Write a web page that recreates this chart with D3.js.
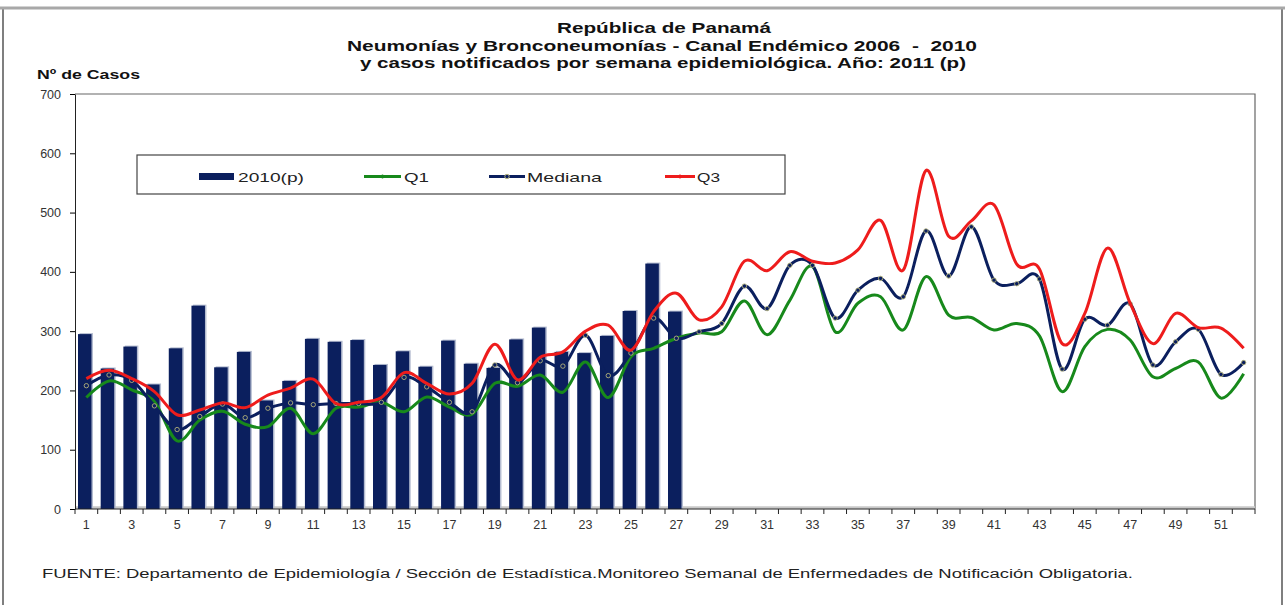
<!DOCTYPE html>
<html>
<head>
<meta charset="utf-8">
<script src="https://cdn.jsdelivr.net/npm/d3@7"></script>
<style>
    body { margin: 0; background: #fff; }
    svg text { font-family: "Liberation Sans", Arial, sans-serif; }
</style>
</head>
<body>
<script>
    //Semanas epidemiologicas (categorias del eje x)
    var weeks = [1, 2, 3, 4, 5, 6, 7, 8, 9, 10, 11, 12, 13, 14, 15, 16, 17, 18, 19, 20,
                 21, 22, 23, 24, 25, 26, 27, 28, 29, 30, 31, 32, 33, 34, 35, 36, 37, 38, 39, 40,
                 41, 42, 43, 44, 45, 46, 47, 48, 49, 50, 51, 52];

    //Casos notificados 2010(p), semanas 1-27
    var casos2010 = [295, 237, 274, 210, 271, 343, 239, 265, 183, 216,
                     287, 282, 285, 243, 266, 240, 284, 245, 238, 286,
                     306, 265, 263, 292, 334, 414, 333];

    //Canal endemico 2006-2010
    var q1 = [188, 216, 201, 181, 115, 150, 165, 143, 139, 170,
              127, 170, 172, 180, 164, 189, 172, 160, 212, 207,
              226, 197, 248, 188, 257, 271, 288, 297, 299, 351,
              294, 352, 409, 299, 347, 358, 302, 392, 327, 323,
              302, 313, 292, 198, 274, 303, 285, 223, 237, 248,
              187, 228];

    var mediana = [208, 226, 217, 174, 134, 156, 177, 154, 170, 179,
                   176, 178, 178, 180, 222, 206, 180, 164, 243, 213,
                   250, 241, 293, 225, 263, 322, 288, 299, 313, 376,
                   338, 411, 411, 322, 369, 389, 358, 469, 393, 476,
                   386, 380, 388, 236, 320, 310, 346, 243, 282, 303,
                   227, 247];

    var q3 = [220, 234, 220, 198, 159, 167, 179, 171, 192, 204,
              219, 178, 180, 188, 230, 212, 194, 212, 278, 218,
              256, 265, 300, 310, 268, 333, 364, 319, 341, 418,
              402, 434, 418, 415, 437, 487, 403, 571, 460, 486,
              513, 413, 405, 279, 330, 440, 347, 279, 330, 306,
              305, 271];

    //Etiquetas
    var yTicks = [0, 100, 200, 300, 400, 500, 600, 700];
    var xLabelWeeks = [1, 3, 5, 7, 9, 11, 13, 15, 17, 19, 21, 23, 25, 27,
                       29, 31, 33, 35, 37, 39, 41, 43, 45, 47, 49, 51];
    var titleLines = ["República de Panamá",
                      "Neumonías y Bronconeumonías - Canal Endémico 2006  -  2010",
                      "y casos notificados por semana epidemiológica. Año: 2011 (p)"];

    var navy = "#0b1f5e", green = "#17891b", red = "#ee1c1c";

    //Define SVG
    var width = 1285, height = 605;
    var plot = {left: 75, right: 1255, top: 94, bottom: 509};

    var svg = d3.select("body")
        .append("svg")
        .attr("width", width)
        .attr("height", height);

    //Marco exterior
    svg.append("rect")
        .attr("x", 3).attr("y", 8)
        .attr("width", 1279).attr("height", 640)
        .style("fill", "none")
        .style("stroke", "#555")
        .style("stroke-width", 1.5);
    svg.append("line")
        .attr("x1", 0).attr("x2", width)
        .attr("y1", 8).attr("y2", 8)
        .style("stroke", "#a8a8a8")
        .style("stroke-width", 3);

    //Define Scales
    var x = d3.scaleBand()
        .domain(weeks)
        .range([plot.left, plot.right]);
    var y = d3.scaleLinear()
        .domain([0, 700])
        .range([plot.bottom, plot.top]);
    function cx(w) { return x(w) + x.bandwidth() / 2; }

    //Titulo
    var titleX = [557, 347, 360], titleLen = [214, 630, 606], titleY = [33, 51, 68];
    titleLines.forEach(function (t, i) {
        svg.append("text")
            .attr("x", titleX[i])
            .attr("y", titleY[i])
            .attr("textLength", titleLen[i])
            .attr("lengthAdjust", "spacingAndGlyphs")
            .style("white-space", "pre")
            .style("font-size", "15px")
            .style("font-weight", "bold")
            .style("fill", "#111")
            .text(t);
    });

    svg.append("text")
        .attr("x", 37).attr("y", 79)
        .attr("textLength", 103)
        .attr("lengthAdjust", "spacingAndGlyphs")
        .style("font-size", "12px")
        .style("font-weight", "bold")
        .style("fill", "#111")
        .text("Nº de Casos");

    //Borde del area de trazado
    svg.append("path")
        .attr("d", "M" + plot.left + "," + plot.top + "H" + plot.right + "V" + plot.bottom)
        .style("fill", "none")
        .style("stroke", "#666")
        .style("stroke-width", 1.2);

    //piso gris
    svg.append("line")
        .attr("x1", plot.left).attr("x2", plot.right)
        .attr("y1", plot.bottom - 1.5).attr("y2", plot.bottom - 1.5)
        .style("stroke", "#c8c8c8")
        .style("stroke-width", 2.5);

    //Barras 2010(p)
    var barData = casos2010.map(function (v, i) { return {week: weeks[i], value: v}; });
    svg.selectAll(".shadow")
        .data(barData)
        .enter().append("rect")
        .attr("class", "shadow")
        .attr("x", function (d) { return x(d.week) + 4.5; })
        .attr("y", function (d) { return y(d.value) - 1; })
        .attr("width", 13.5)
        .attr("height", function (d) { return plot.bottom - y(d.value) + 1; })
        .style("fill", "#b4bcd0");
    svg.selectAll(".bar")
        .data(barData)
        .enter().append("rect")
        .attr("class", "bar")
        .attr("x", function (d) { return x(d.week) + 3; })
        .attr("y", function (d) { return y(d.value); })
        .attr("width", 13.5)
        .attr("height", function (d) { return plot.bottom - y(d.value); })
        .style("fill", navy);

    //Lineas suavizadas
    var line = d3.line()
        .x(function (d) { return cx(d.week); })
        .y(function (d) { return y(d.value); })
        .curve(d3.curveCardinal.tension(0));

    var series = [
        {name: "Q1", values: q1, color: green},
        {name: "Mediana", values: mediana, color: navy},
        {name: "Q3", values: q3, color: red}
    ];
    series.forEach(function (s) {
        var pts = s.values.map(function (v, i) { return {week: weeks[i], value: v}; });
        svg.append("path")
            .datum(pts)
            .attr("d", line)
            .style("fill", "none")
            .style("stroke", s.color)
            .style("stroke-width", 3)
            .style("stroke-linejoin", "round");
        if (s.name === "Mediana") {
            svg.selectAll(".mk")
                .data(pts)
                .enter().append("circle")
                .attr("class", "mk")
                .attr("cx", function (d) { return cx(d.week); })
                .attr("cy", function (d) { return y(d.value); })
                .attr("r", 2.2)
                .style("fill", navy)
                .style("stroke", "#b3b27a")
                .style("stroke-width", 0.9);
        }
    });

    //Eje Y
    var yAxis = d3.axisLeft(y).tickValues(yTicks).tickSize(5).tickSizeOuter(0).tickPadding(9);
    var gy = svg.append("g")
        .attr("transform", "translate(" + plot.left + ",0)")
        .call(yAxis);
    gy.selectAll("text")
        .style("font-size", "12.5px")
        .style("font-family", "'Liberation Sans', Arial, sans-serif")
        .style("fill", "#333");
    gy.select(".domain").style("stroke", "#222");

    //Eje X
    svg.append("line")
        .attr("x1", plot.left).attr("x2", plot.right)
        .attr("y1", plot.bottom).attr("y2", plot.bottom)
        .style("stroke", "#222");
    svg.selectAll(".xtick")
        .data(weeks.concat(["end"]))
        .enter().append("line")
        .attr("class", "xtick")
        .attr("x1", function (d) { return d === "end" ? plot.right : x(d); })
        .attr("x2", function (d) { return d === "end" ? plot.right : x(d); })
        .attr("y1", plot.bottom)
        .attr("y2", plot.bottom + 5)
        .style("stroke", "#222");
    svg.selectAll(".xlabel")
        .data(xLabelWeeks)
        .enter().append("text")
        .attr("class", "xlabel")
        .attr("x", function (d) { return cx(d); })
        .attr("y", 529)
        .style("text-anchor", "middle")
        .style("font-size", "12.5px")
        .style("fill", "#333")
        .text(function (d) { return d; });

    //Leyenda
    var lg = svg.append("g");
    lg.append("rect")
        .attr("x", 137).attr("y", 155)
        .attr("width", 648).attr("height", 39)
        .style("fill", "#fff")
        .style("stroke", "#444")
        .style("stroke-width", 1.2);
    lg.append("rect")
        .attr("x", 199).attr("y", 173)
        .attr("width", 35).attr("height", 7)
        .style("fill", navy);
    var legendItems = [
        {label: "2010(p)", tx: 238, tl: 66},
        {label: "Q1", x1: 364, x2: 401, color: green, tx: 404, tl: 25},
        {label: "Mediana", x1: 489, x2: 525, color: navy, tx: 527, tl: 75},
        {label: "Q3", x1: 665, x2: 695, color: red, tx: 697, tl: 23}
    ];
    legendItems.forEach(function (d) {
        if (d.color) {
            lg.append("line")
                .attr("x1", d.x1).attr("x2", d.x2)
                .attr("y1", 176.5).attr("y2", 176.5)
                .style("stroke", d.color)
                .style("stroke-width", 3);
            lg.append("circle")
                .attr("cx", (d.x1 + d.x2) / 2).attr("cy", 176.5)
                .attr("r", d.label === "Mediana" ? 2.2 : 1.5)
                .style("fill", d.color)
                .style("stroke", d.label === "Mediana" ? "#b3b27a" : d.color);
        }
        lg.append("text")
            .attr("x", d.tx).attr("y", 181.5)
            .attr("textLength", d.tl)
            .attr("lengthAdjust", "spacingAndGlyphs")
            .style("font-size", "13.5px")
            .style("fill", "#222")
            .text(d.label);
    });

    //Fuente
    svg.append("text")
        .attr("x", 42).attr("y", 578)
        .attr("textLength", 1091)
        .attr("lengthAdjust", "spacingAndGlyphs")
        .style("font-size", "12.5px")
        .style("fill", "#222")
        .text("FUENTE: Departamento de Epidemiología / Sección de Estadística.Monitoreo Semanal de Enfermedades de Notificación Obligatoria.");
</script>
</body>
</html>
